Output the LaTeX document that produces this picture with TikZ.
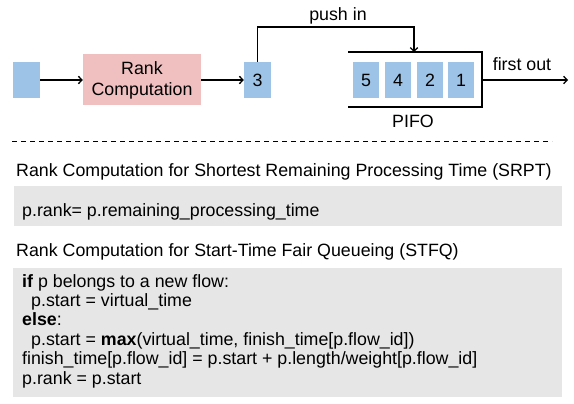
\documentclass[tikz,border=0pt]{standalone}
\usepackage{fontspec}
\setmainfont{Liberation Sans}
\usetikzlibrary{arrows.meta}
\definecolor{cellblue}{HTML}{9DC3E6}
\definecolor{rankpink}{HTML}{F0BFBF}
\definecolor{codegray}{HTML}{E6E6E6}
\tikzset{
	cell/.style={fill=cellblue, minimum width=26pt, minimum height=36pt, inner sep=0pt},
	flowarrow/.style={line width=1.3pt, -{Straight Barb[length=3.5pt,width=7.5pt]}},
	txt/.style={inner sep=0pt, anchor=base west}
}

\begin{document}
\begin{tikzpicture}[x=1pt, y=-1pt, font=\fontsize{17.8}{19.4}\selectfont]
			%%%%% START %%%%%
			\useasboundingbox (0, 0) rectangle (574, 404);
			
			\node[cell, minimum width=27pt] (pkt) at (26.5, 80) {};
			\node[fill=rankpink, minimum width=118pt, minimum height=51pt, inner sep=0pt, align=center, font=\fontsize{17.8}{21}\selectfont] (rank) at (142, 80) {Rank\\Computation};
			\node[cell, minimum width=27pt] (three) at (257.5, 80) {3};
			
			\draw[flowarrow] (pkt) -- (rank);
			\draw[flowarrow] (rank) -- (three);
			
			\node[cell] (c5) at (366, 80) {5};
			\node[cell] (c4) at (398, 80) {4};
			\node[cell] (c2) at (430, 80) {2};
			\node[cell] (c1) at (461, 80) {1};
			
			\draw[line width=1.3pt] (348, 52) -- (482, 52) -- (482, 107) -- (348, 107);
			\coordinate (bend) at (414, 27);
			\coordinate (pifotop) at (414, 52);
			\coordinate (pifoout) at (482, 80);
			\coordinate (exit) at (568, 80);
			
			\draw[flowarrow] (three.north) |- (bend) -- (pifotop);
			\draw[flowarrow] (pifoout) -- (exit);
			
			\node (pushlbl) at (338, 16) {push in};
			\node (outlbl) at (522, 64.5) {first out};
			\node (pifolbl) at (413, 121.5) {PIFO};
			
			\draw[line width=1pt, dash pattern=on 5pt off 4pt] (12, 142) -- (552, 142);
			
			\fill[codegray] (14, 186) rectangle (562, 226);
			\fill[codegray] (13, 268) rectangle (562, 397);
			
			\node[txt] (srpttitle) at (16, 177) {Rank Computation for Shortest Remaining Processing Time (SRPT)};
			\node[txt] (srptcode) at (22, 216) {p.rank= p.remaining\_processing\_time};
			\node[txt] (stfqtitle) at (16, 256) {Rank Computation for Start-Time Fair Queueing (STFQ)};
			
			\node[txt] (line1) at (22, 287) {\textbf{if} p belongs to a new flow:};
			\node[txt] (line2) at (31, 306.4) {p.start = virtual\_time};
			\node[txt] (line3) at (22, 325.8) {\textbf{else}:};
			\node[txt] (line4) at (31, 345.2) {p.start = \textbf{max}(virtual\_time, finish\_time[p.flow\_id])};
			\node[txt] (line5) at (22, 364.6) {finish\_time[p.flow\_id] = p.start + p.length/weight[p.flow\_id]};
			\node[txt] (line6) at (22, 384) {p.rank = p.start};
			
			%%%%% END %%%%%
\end{tikzpicture}
\end{document}
